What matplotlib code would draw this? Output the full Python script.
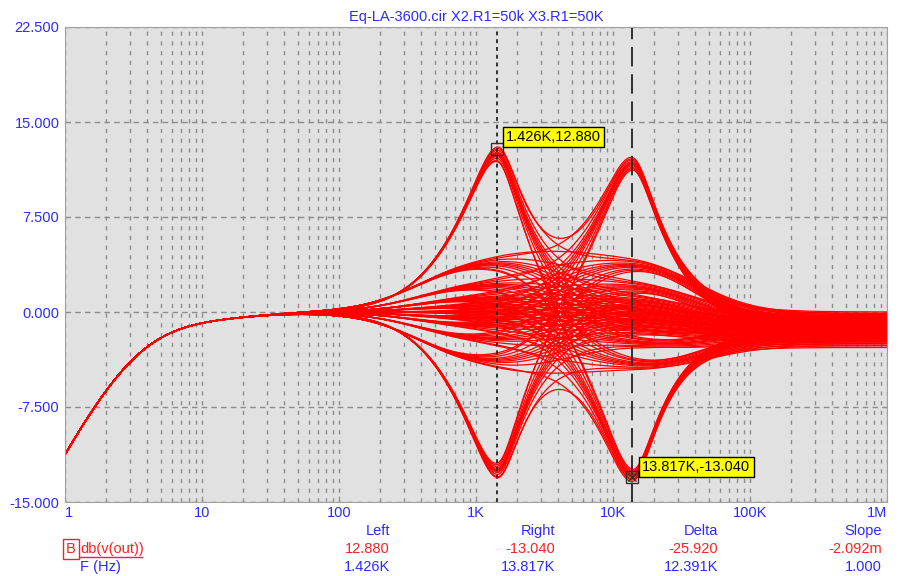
import numpy as np
import matplotlib
matplotlib.use('Agg')
import matplotlib.pyplot as plt
from matplotlib.ticker import FixedLocator, NullFormatter

plt.rcParams['font.family'] = ['Liberation Sans', 'DejaVu Sans']

# --- data ----------------------------------------------------------------
title = 'Eq-LA-3600.cir X2.R1=50k X3.R1=50K'

# input high-pass corner (Hz) and gentle low-frequency shelf
hp_corner = 3.3
lf_corner = 25.0
lf_level = -0.5

# band centres (Hz)
band1_f0 = 1426.0
band2_f0 = 13817.0

# stepped pot positions: centre gain (dB), Q below / above the centre
band1_gain = [-12.5, -3.8, -2.1, -1.1, -0.5, 0.0, 0.5, 1.1, 2.1, 3.8, 12.45]
band1_qlo = [0.6, 0.25, 0.25, 0.25, 0.25, 0.25, 0.25, 0.25, 0.25, 0.25, 0.6]
band1_qhi = [0.8, 0.3, 0.3, 0.3, 0.3, 0.3, 0.3, 0.3, 0.3, 0.3, 0.8]
band2_gain = [-12.6, -3.8, -2.1, -1.1, -0.5, 0.0, 0.5, 1.1, 2.1, 3.8, 11.8]
band2_qlo = [0.6, 0.25, 0.25, 0.25, 0.25, 0.25, 0.25, 0.25, 0.25, 0.25, 0.6]
band2_qhi = [0.8, 0.3, 0.3, 0.3, 0.3, 0.3, 0.3, 0.3, 0.3, 0.3, 0.8]

# high-frequency residual level per pot position (dB)
band1_hf = [-1.3, -1.15, -1.0, -0.85, -0.7, -0.6, -0.5, -0.35, -0.2, -0.1, 0.0]
band2_hf = [-1.5, -1.35, -1.2, -1.05, -0.9, -0.75, -0.6, -0.45, -0.3, -0.15, 0.0]
hf_corner = 30000.0

# cursor readout
cursor_left = (1426.0, 12.880)
cursor_right = (13817.0, -13.040)
xtick_vals = [1, 10, 100, 1e3, 1e4, 1e5, 1e6]
xtick_labels = ['1', '10', '100', '1K', '10K', '100K', '1M']
ytick_vals = [-15, -7.5, 0, 7.5, 15, 22.5]
table_heads = ['Left', 'Right', 'Delta', 'Slope']
table_db = ['12.880', '-13.040', '-25.920', '-2.092m']
table_f = ['1.426K', '13.817K', '12.391K', '1.000']


def peaking_db(f, f0, g, qlo, qhi):
    w = f / f0
    q = np.where(w < 1, qlo, qhi)
    s = 1j * w
    a = 10 ** (g / 40.0)
    h = (s ** 2 + s * a / q + 1) / (s ** 2 + s / (a * q) + 1)
    return 20 * np.log10(np.abs(h))


def shelf_db(f, fc, r):
    # high shelf: 0 dB low, r dB high
    k = 10 ** (r / 20.0)
    return 20 * np.log10(np.abs((1 + 1j * f * k / fc) / (1 + 1j * f / fc)))


def low_shelf_db(f, fc, r):
    # low shelf: r dB low, 0 dB high
    k = 10 ** (r / 20.0)
    return 20 * np.log10(np.abs((k + 1j * f / fc) / (1 + 1j * f / fc)))


freq = np.logspace(0, 6, 700)
hp_db = 20 * np.log10(np.abs((1j * freq / hp_corner) / (1 + 1j * freq / hp_corner)))
hp_db = hp_db + low_shelf_db(freq, lf_corner, lf_level)

BLUE = '#2b2bff'
RED = '#ff2020'
FS = 10.5
W, H = 899, 576
fig = plt.figure(figsize=(W / 100, H / 100), dpi=100)
ax = fig.add_axes([65 / W, 1 - 502 / H, 822 / W, 475 / H])
ax.set_facecolor('#e1e1e1')

for i in range(len(band1_gain)):
    b1 = peaking_db(freq, band1_f0, band1_gain[i], band1_qlo[i], band1_qhi[i])
    for j in range(len(band2_gain)):
        b2 = peaking_db(freq, band2_f0, band2_gain[j], band2_qlo[j], band2_qhi[j])
        resp = hp_db + b1 + b2 + shelf_db(freq, hf_corner, band1_hf[i] + band2_hf[j])
        ax.plot(freq, resp, color='red', lw=0.9)

ax.set_xscale('log')
ax.set_xlim(1, 1e6)
ax.set_ylim(-15, 22.5)

minor = [m * 10 ** d for d in range(6) for m in range(2, 10)]
ax.xaxis.set_major_locator(FixedLocator(xtick_vals))
ax.xaxis.set_minor_locator(FixedLocator(minor))
ax.xaxis.set_minor_formatter(NullFormatter())
ax.set_xticks(xtick_vals)
ax.set_xticklabels(xtick_labels)
ax.set_yticks(ytick_vals)
ax.set_yticklabels(['%.3f' % v for v in ytick_vals])
ax.tick_params(axis='both', which='both', colors='#909090', labelcolor=BLUE,
               labelsize=FS, direction='in')
ax.tick_params(axis='x', which='major', length=4, pad=3)
ax.tick_params(axis='x', which='minor', length=2)
ax.tick_params(axis='y', length=0, pad=4)
labs = ax.get_xticklabels()
labs[0].set_horizontalalignment('left')
labs[-1].set_horizontalalignment('right')

ax.grid(True, which='both', axis='x', color='#8c8c8c', ls=(0, (3, 4)), lw=1)
ax.grid(True, which='major', axis='y', color='#8c8c8c', ls=(0, (4, 3)), lw=1)
for sp in ax.spines.values():
    sp.set_color('#a0a0a0')

ax.set_title(title, color=BLUE, fontsize=FS, pad=4)

# cursors
ax.axvline(cursor_left[0], color='#303030', ls=(0, (2, 2)), lw=1.4)
ax.axvline(cursor_right[0], color='#303030', ls=(0, (10, 4)), lw=1.4)
ax.plot(*cursor_left, marker='s', ms=9, mfc='none', mec='#303030', mew=1)
ax.plot(*cursor_right, marker='s', ms=9, mfc='none', mec='#303030', mew=1)
ax.plot(*cursor_right, marker='x', ms=6, mec='#303030', mew=1)
for pt, txt, off in [(cursor_left, '1.426K,12.880', (9, 12)),
                     (cursor_right, '13.817K,-13.040', (10, 10))]:
    ax.annotate(txt, xy=pt, xytext=off, textcoords='offset pixels',
                fontsize=FS, va='center', ha='left', color='black',
                bbox=dict(boxstyle='square,pad=0.22', fc='#ffff00', ec='black', lw=1))


def ftxt(x, y, s, **kw):
    fig.text(x / W, 1 - y / H, s, fontsize=FS, va='center', **kw)


cols = [390, 555, 718, 882]
for x, hd, d, f in zip(cols, table_heads, table_db, table_f):
    ftxt(x, 531, hd, ha='right', color=BLUE)
    ftxt(x, 549, d, ha='right', color=RED)
    ftxt(x, 567, f, ha='right', color=BLUE)
ftxt(66, 549, 'B', ha='left', color=RED,
     bbox=dict(boxstyle='square,pad=0.2', fc='none', ec=RED, lw=1))
ftxt(80, 549, 'db(v(out))', ha='left', color=RED)
fig.add_artist(plt.Line2D([80 / W, 142 / W], [1 - 557 / H, 1 - 557 / H],
                          color=RED, lw=1))
ftxt(80, 567, 'F (Hz)', ha='left', color=BLUE)

fig.savefig('out.png', dpi=100)
